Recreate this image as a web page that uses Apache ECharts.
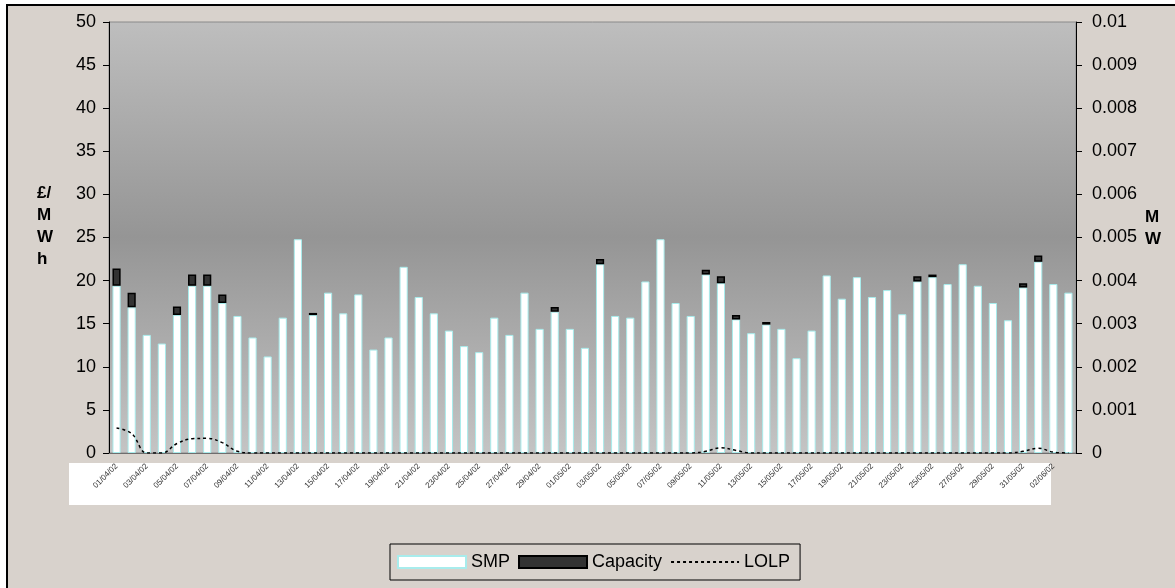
<!DOCTYPE html>
<html>
<head>
<meta charset="utf-8">
<style>
  html, body { margin: 0; padding: 0; background: #ffffff; }
  #chart { width: 1175px; height: 588px; }
</style>
<script src="https://cdn.jsdelivr.net/npm/echarts@6/dist/echarts.min.js"></script>
</head>
<body>
<div id="chart"></div>
<script>
// Daily settlement dates along the category axis
const categories = [
  '01/04/02','02/04/02','03/04/02','04/04/02','05/04/02','06/04/02','07/04/02','08/04/02',
  '09/04/02','10/04/02','11/04/02','12/04/02','13/04/02','14/04/02','15/04/02','16/04/02',
  '17/04/02','18/04/02','19/04/02','20/04/02','21/04/02','22/04/02','23/04/02','24/04/02',
  '25/04/02','26/04/02','27/04/02','28/04/02','29/04/02','30/04/02','01/05/02','02/05/02',
  '03/05/02','04/05/02','05/05/02','06/05/02','07/05/02','08/05/02','09/05/02','10/05/02',
  '11/05/02','12/05/02','13/05/02','14/05/02','15/05/02','16/05/02','17/05/02','18/05/02',
  '19/05/02','20/05/02','21/05/02','22/05/02','23/05/02','24/05/02','25/05/02','26/05/02',
  '27/05/02','28/05/02','29/05/02','30/05/02','31/05/02','01/06/02','02/06/02','03/06/02'
];

// System marginal price, £/MWh
const smp = [
  19.4, 16.9, 13.7, 12.7, 16.0, 19.4, 19.4, 17.4,
  15.9, 13.4, 11.2, 15.7, 24.8, 16.0, 18.6, 16.2,
  18.4, 12.0, 13.4, 21.6, 18.1, 16.2, 14.2, 12.4,
  11.7, 15.7, 13.7, 18.6, 14.4, 16.4, 14.4, 12.2,
  21.9, 15.9, 15.7, 19.9, 24.8, 17.4, 15.9, 20.7,
  19.7, 15.5, 13.9, 14.9, 14.4, 11.0, 14.2, 20.6,
  17.9, 20.4, 18.1, 18.9, 16.1, 19.9, 20.4, 19.6,
  21.9, 19.4, 17.4, 15.4, 19.2, 22.2, 19.6, 18.6
];

// Capacity payment, £/MWh, stacked on top of SMP
const capacity = [
  2.0, 1.7, 0, 0, 1.0, 1.3, 1.3, 1.0,
  0, 0, 0, 0, 0, 0.25, 0, 0,
  0, 0, 0, 0, 0, 0, 0, 0,
  0, 0, 0, 0, 0, 0.55, 0, 0,
  0.6, 0, 0, 0, 0, 0, 0, 0.55,
  0.8, 0.5, 0, 0.3, 0, 0, 0, 0,
  0, 0, 0, 0, 0, 0.6, 0.3, 0,
  0, 0, 0, 0, 0.5, 0.7, 0, 0
];

// Loss of load probability (right axis)
const lolp = [
  0.00058, 0.00045, 0, 0, 0.00022, 0.00033, 0.00034, 0.00024,
  0.00004, 0, 0, 0, 0, 0, 0, 0,
  0, 0, 0, 0, 0, 0, 0, 0,
  0, 0, 0, 0, 0, 0, 0, 0,
  0, 0, 0, 0, 0, 0, 0, 0.00004,
  0.00012, 0.00006, 0, 0, 0, 0, 0, 0,
  0, 0, 0, 0, 0, 0, 0, 0,
  0, 0, 0, 0, 0.00004, 0.00011, 0.00002, 0
];

// Axis ranges
const leftMax = 50, leftStep = 5;
const rightMax = 0.01, rightStep = 0.001;

const FONT = '"Liberation Sans", Arial, sans-serif';

const chart = echarts.init(document.getElementById('chart'), null, { renderer: 'canvas' });

chart.setOption({
  animation: false,
  textStyle: { fontFamily: FONT },
  graphic: [
    {
      type: 'rect', z: -30, silent: true,
      shape: { x: 7, y: 5, width: 1200, height: 620 },
      style: { fill: '#d8d2cc', stroke: '#000000', lineWidth: 2 }
    },
    {
      type: 'rect', z: -20, silent: true,
      shape: { x: 69, y: 463, width: 982, height: 42 },
      style: { fill: '#ffffff' }
    },
    {
      type: 'text', left: 37, top: 182, silent: true,
      style: {
        text: '£/\nM\nW\nh', font: 'bold 17px ' + FONT, lineHeight: 22,
        fill: '#000000', align: 'center'
      }
    },
    {
      type: 'text', left: 1145, top: 206, silent: true,
      style: {
        text: 'M\nW', font: 'bold 17px ' + FONT, lineHeight: 22,
        fill: '#000000', align: 'center'
      }
    }
  ],
  grid: {
    left: 109, right: 99, top: 22, bottom: 135,
    show: true,
    borderColor: '#8a8a8a', borderWidth: 1,
    backgroundColor: new echarts.graphic.LinearGradient(0, 0, 0, 1, [
      { offset: 0, color: '#bebebe' },
      { offset: 0.5, color: '#959595' },
      { offset: 1, color: '#c4c4c4' }
    ])
  },
  legend: {
    left: 390, top: 544,
    padding: [9, 10, 9, 7],
    itemGap: 8,
    itemWidth: 68, itemHeight: 12,
    borderColor: '#000000', borderWidth: 1,
    textStyle: { fontSize: 18, color: '#000000', fontFamily: FONT },
    data: [
      { name: 'SMP', icon: 'rect' },
      { name: 'Capacity', icon: 'rect' },
      { name: 'LOLP', itemStyle: { opacity: 0 } }
    ]
  },
  xAxis: {
    type: 'category',
    data: categories,
    boundaryGap: true,
    axisLine: { lineStyle: { color: '#6e6e6e', width: 1 } },
    axisTick: { show: false },
    axisLabel: {
      interval: 1, rotate: 45, margin: 12,
      fontSize: 8, color: '#333333', fontFamily: FONT
    },
    splitLine: { show: false }
  },
  yAxis: [
    {
      type: 'value', min: 0, max: leftMax, interval: leftStep,
      axisLine: { show: true, lineStyle: { color: '#000000' } },
      axisTick: { show: true, length: 6, lineStyle: { color: '#000000' } },
      axisLabel: { fontSize: 18, color: '#000000', margin: 13, fontFamily: FONT },
      splitLine: { show: false }
    },
    {
      type: 'value', min: 0, max: rightMax, interval: rightStep,
      position: 'right',
      axisLine: { show: true, lineStyle: { color: '#000000' } },
      axisTick: { show: true, length: 6, lineStyle: { color: '#000000' } },
      axisLabel: {
        fontSize: 18, color: '#000000', margin: 16, fontFamily: FONT,
        formatter: v => String(parseFloat(v.toFixed(3)))
      },
      splitLine: { show: false }
    }
  ],
  series: [
    {
      name: 'SMP', type: 'bar', stack: 'price', yAxisIndex: 0,
      barWidth: '54%',
      itemStyle: { color: '#ffffff', borderColor: '#a8ecec', borderWidth: 1 },
      data: smp
    },
    {
      name: 'Capacity', type: 'bar', stack: 'price', yAxisIndex: 0,
      itemStyle: { color: '#333333', borderColor: '#000000', borderWidth: 1.5 },
      data: capacity.map(v => (v > 0 ? v : null))
    },
    {
      name: 'LOLP', type: 'line', yAxisIndex: 1,
      smooth: 0.4, symbol: 'none',
      lineStyle: { color: '#000000', width: 1.5, type: [3, 3] },
      itemStyle: { color: '#000000' },
      data: lolp
    }
  ]
});
</script>
</body>
</html>
